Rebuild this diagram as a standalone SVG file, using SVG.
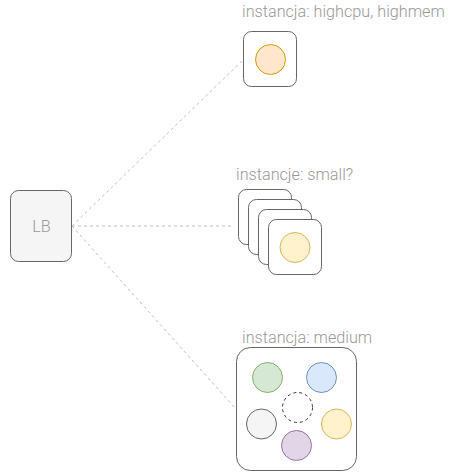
<svg xmlns="http://www.w3.org/2000/svg" width="471" height="472" viewBox="0 0 471 472">
<style>
.lbl{font-family:Roboto,"Liberation Sans",Arial,sans-serif;font-weight:300;font-size:16.2px;fill:#999999}
.box{fill:#ffffff;stroke:#666666;stroke-width:1}
.conn{fill:none;stroke:#c0c0c0;stroke-width:1;stroke-dasharray:3 3}
</style>
<rect width="471" height="472" fill="#ffffff"/>
<g id="connectors">
<path class="conn" d="M72 226 L242 61"/>
<path class="conn" d="M72 226 L232 226"/>
<path class="conn" d="M72 226 L235 408"/>
</g>
<g id="lb">
<rect x="10.5" y="190.5" width="61" height="71" rx="8" fill="#f5f5f5" stroke="#666666"/>
<text class="lbl" x="41.5" y="231.5" text-anchor="middle">LB</text>
</g>
<g id="highcpu">
<text class="lbl" x="242" y="17">instancja: highcpu, highmem</text>
<rect class="box" x="243.5" y="31.5" width="53" height="55" rx="8"/>
<circle cx="270.5" cy="59.5" r="15" fill="#ffe6cc" stroke="#d79b00"/>
</g>
<g id="small">
<text class="lbl" x="236" y="180">instancje: small?</text>
<rect class="box" x="238.5" y="189.5" width="53" height="55" rx="8"/>
<rect class="box" x="248.5" y="199.5" width="53" height="55" rx="8"/>
<rect class="box" x="258.5" y="209.5" width="53" height="55" rx="8"/>
<rect class="box" x="268.5" y="219.5" width="53" height="55" rx="8"/>
<circle cx="295" cy="247.5" r="15" fill="#fff2cc" stroke="#d6b656"/>
</g>
<g id="medium">
<text class="lbl" x="242" y="343">instancja: medium</text>
<rect class="box" x="236.5" y="347.5" width="120" height="123" rx="14"/>
<circle cx="267.5" cy="377.5" r="15" fill="#d5e8d4" stroke="#82b366"/>
<circle cx="321.5" cy="377.5" r="15" fill="#dae8fc" stroke="#6c8ebf"/>
<circle cx="297.5" cy="407.5" r="15" fill="none" stroke="#333333" stroke-dasharray="3 3"/>
<circle cx="261.5" cy="424" r="15" fill="#f5f5f5" stroke="#666666"/>
<circle cx="336.5" cy="424" r="15" fill="#fff2cc" stroke="#d6b656"/>
<circle cx="296.5" cy="445.5" r="15" fill="#e1d5e7" stroke="#9673a6"/>
</g>
</svg>
